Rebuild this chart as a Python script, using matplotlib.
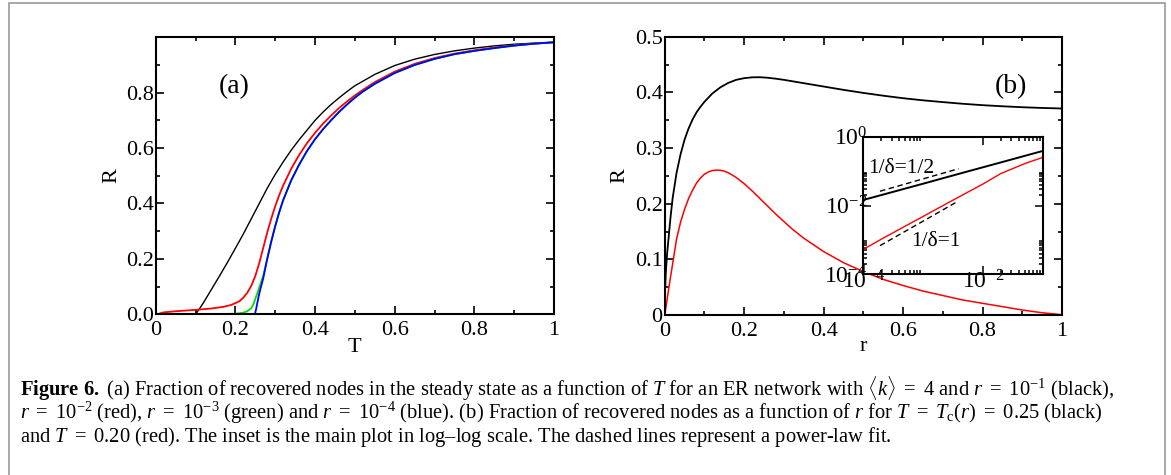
import matplotlib
matplotlib.use("Agg")
import matplotlib.pyplot as plt
from matplotlib.patches import Rectangle
from matplotlib.ticker import MultipleLocator, FixedLocator, NullFormatter

plt.rcParams["font.family"] = ["Liberation Serif", "DejaVu Serif"]
plt.rcParams["mathtext.fontset"] = "custom"
plt.rcParams["mathtext.rm"] = "Liberation Serif"
plt.rcParams["mathtext.it"] = "Liberation Serif:italic"
plt.rcParams["mathtext.bf"] = "Liberation Serif:bold"

# ---- panel (a): R vs T for r = 1e-1, 1e-2, 1e-3, 1e-4
t_black = [0.0, 0.10, 0.11, 0.12, 0.14, 0.16, 0.18, 0.20, 0.22, 0.24, 0.26, 0.28, 0.30,
           0.32, 0.34, 0.36, 0.38, 0.40, 0.42, 0.44, 0.46, 0.48, 0.50, 0.55, 0.60, 0.65,
           0.70, 0.75, 0.80, 0.85, 0.90, 0.95, 1.0]
r_black = [0.0, 0.0, 0.02, 0.042, 0.09, 0.138, 0.187, 0.238, 0.29, 0.345, 0.40, 0.455, 0.505,
           0.55, 0.592, 0.63, 0.665, 0.70, 0.73, 0.757, 0.781, 0.804, 0.825, 0.866, 0.898, 0.921,
           0.938, 0.951, 0.961, 0.969, 0.975, 0.979, 0.982]

t_red = [0.01, 0.02, 0.05, 0.10, 0.14, 0.17, 0.19, 0.21, 0.22, 0.23, 0.24, 0.25, 0.26, 0.27,
         0.28, 0.29, 0.30, 0.31, 0.32, 0.34, 0.36, 0.38, 0.40, 0.42, 0.44, 0.46, 0.48, 0.50,
         0.52, 0.55, 0.60, 0.65, 0.70, 0.75, 0.80, 0.85, 0.90, 0.95, 1.0]
r_red = [0.003, 0.007, 0.011, 0.016, 0.021, 0.027, 0.034, 0.047, 0.06, 0.078, 0.103, 0.138,
         0.185, 0.24, 0.295, 0.345, 0.39, 0.43, 0.465, 0.525, 0.575, 0.618, 0.655, 0.688,
         0.717, 0.744, 0.768, 0.79, 0.81, 0.838, 0.876, 0.904, 0.925, 0.941, 0.953, 0.963,
         0.971, 0.977, 0.982]

t_green = [0.0, 0.15, 0.20, 0.22, 0.23, 0.24, 0.245, 0.25, 0.255, 0.26, 0.27, 0.28, 0.29,
           0.30, 0.31, 0.32, 0.34, 0.36, 0.38, 0.40, 0.42, 0.44, 0.46, 0.48, 0.50, 0.52,
           0.55, 0.60, 0.65, 0.70, 0.75, 0.80, 0.85, 0.90, 0.95, 1.0]
r_green = [0.0, 0.0005, 0.002, 0.006, 0.011, 0.022, 0.035, 0.055, 0.075, 0.097, 0.14, 0.2,
           0.262, 0.318, 0.368, 0.412, 0.483, 0.54, 0.59, 0.632, 0.668, 0.70, 0.73, 0.757,
           0.782, 0.804, 0.832, 0.871, 0.90, 0.922, 0.939, 0.951, 0.961, 0.970, 0.977, 0.982]

t_blue = [0.0, 0.249, 0.252, 0.255, 0.26, 0.27, 0.28, 0.29, 0.30, 0.31, 0.32, 0.34, 0.36,
          0.38, 0.40, 0.42, 0.44, 0.46, 0.48, 0.50, 0.52, 0.55, 0.60, 0.65, 0.70, 0.75,
          0.80, 0.85, 0.90, 0.95, 1.0]
r_blue = [0.0, 0.0, 0.018, 0.04, 0.075, 0.13, 0.2, 0.262, 0.318, 0.368, 0.412, 0.483, 0.54,
          0.59, 0.632, 0.668, 0.70, 0.73, 0.757, 0.782, 0.804, 0.832, 0.871, 0.90, 0.922,
          0.939, 0.951, 0.961, 0.970, 0.977, 0.982]

# ---- panel (b): R vs r for T = 0.25 and T = 0.20
rb_black = [0.0, 0.0005, 0.001, 0.003, 0.006, 0.01, 0.015, 0.02, 0.03, 0.04, 0.05, 0.06,
            0.07, 0.08, 0.09, 0.10, 0.12, 0.14, 0.16, 0.18, 0.20, 0.22, 0.24, 0.26, 0.28,
            0.30, 0.35, 0.40, 0.45, 0.50, 0.55, 0.60, 0.65, 0.70, 0.75, 0.80, 0.85, 0.90,
            0.95, 1.0]
Rb_black = [0.0, 0.03, 0.045, 0.078, 0.11, 0.14, 0.178, 0.21, 0.256, 0.289, 0.315, 0.335,
            0.351, 0.364, 0.374, 0.383, 0.398, 0.409, 0.417, 0.4225, 0.4255, 0.427, 0.4272,
            0.4262, 0.4245, 0.4225, 0.4165, 0.4105, 0.4045, 0.399, 0.394, 0.3895, 0.3857,
            0.3825, 0.3795, 0.377, 0.375, 0.3733, 0.372, 0.371]

rb_red = [0.0, 0.002, 0.005, 0.01, 0.015, 0.02, 0.03, 0.04, 0.05, 0.06, 0.07, 0.08, 0.09,
          0.10, 0.11, 0.12, 0.13, 0.14, 0.15, 0.16, 0.17, 0.18, 0.20, 0.22, 0.24, 0.26,
          0.28, 0.30, 0.32, 0.35, 0.40, 0.45, 0.50, 0.55, 0.60, 0.65, 0.70, 0.75, 0.80,
          0.85, 0.90, 0.95, 1.0]
Rb_red = [0.0, 0.009, 0.023, 0.047, 0.07, 0.092, 0.137, 0.167, 0.19, 0.209, 0.224, 0.237,
          0.246, 0.253, 0.257, 0.2595, 0.2603, 0.26, 0.2585, 0.2555, 0.2515, 0.247, 0.236,
          0.223, 0.209, 0.195, 0.181, 0.168, 0.155, 0.138, 0.114, 0.094, 0.078, 0.064, 0.053,
          0.043, 0.035, 0.027, 0.021, 0.015, 0.009, 0.004, 0.0005]

# ---- inset (log-log)
ri = [1e-4, 2e-4, 5e-4, 1e-3, 2e-3, 5e-3, 1e-2, 2e-2, 5e-2, 1e-1]
Ri_black = [0.0145, 0.0201, 0.031, 0.043, 0.06, 0.093, 0.129, 0.179, 0.277, 0.385]
Ri_red = [5.3e-4, 1.05e-3, 2.5e-3, 4.8e-3, 9.3e-3, 0.022, 0.042, 0.085, 0.165, 0.25]
fit_r = [1.9e-4, 3.9e-3]
fit_black = [0.026, 0.117]
fit_red = [6.8e-4, 0.0135]

W, H = 1171, 475
fig = plt.figure(figsize=(W / 100, H / 100), dpi=100)


def box(l, t, r, b):
    return [l / W, 1 - b / H, (r - l) / W, (b - t) / H]


def style(ax):
    for s in ax.spines.values():
        s.set_linewidth(1.5)
    ax.tick_params(which="both", direction="in", top=True, right=True, width=1.2)
    ax.tick_params(which="major", length=6, labelsize=16)
    ax.tick_params(which="minor", length=3)
    ax.tick_params(axis="y", pad=1.5)
    ax.tick_params(axis="x", pad=5)


# panel (a)
ax1 = fig.add_axes(box(155.7, 37.3, 554, 314.3))
ax1.plot(t_black, r_black, color="black", lw=1.0)
ax1.plot(t_red, r_red, color="red", lw=1.3)
ax1.plot(t_green, r_green, color="#00dd00", lw=1.3)
ax1.plot(t_blue, r_blue, color="blue", lw=1.3)
ax1.set_xlim(0, 1)
ax1.set_ylim(0, 1)
ax1.set_xticks([0, 0.2, 0.4, 0.6, 0.8, 1.0])
ax1.set_xticklabels(["0", "0.2", "0.4", "0.6", "0.8", "1"])
ax1.set_yticks([0, 0.2, 0.4, 0.6, 0.8])
ax1.set_yticklabels(["0.0", "0.2", "0.4", "0.6", "0.8"])
ax1.xaxis.set_minor_locator(MultipleLocator(0.1))
ax1.yaxis.set_minor_locator(MultipleLocator(0.1))
style(ax1)
ax1.set_xlabel("T", fontsize=16)
ax1.set_ylabel("R", fontsize=16)
ax1.xaxis.set_label_coords(0.5, -0.085)
ax1.yaxis.set_label_coords(-0.085, 0.5)
ax1.text(0.197, 0.823, "(a)", fontsize=20, ha="center", va="center")

# panel (b)
ax2 = fig.add_axes(box(664.7, 36.7, 1062, 315))
ax2.plot(rb_black, Rb_black, color="black", lw=1.3)
ax2.plot(rb_red, Rb_red, color="red", lw=1.1)
ax2.set_xlim(0, 1)
ax2.set_ylim(0, 0.5)
ax2.set_xticks([0, 0.2, 0.4, 0.6, 0.8, 1.0])
ax2.set_xticklabels(["0", "0.2", "0.4", "0.6", "0.8", "1"])
ax2.set_yticks([0, 0.1, 0.2, 0.3, 0.4, 0.5])
ax2.set_yticklabels(["0", "0.1", "0.2", "0.3", "0.4", "0.5"])
ax2.xaxis.set_minor_locator(MultipleLocator(0.1))
ax2.yaxis.set_minor_locator(MultipleLocator(0.05))
style(ax2)
ax2.set_xlabel("r", fontsize=16)
ax2.set_ylabel("R", fontsize=16)
ax2.xaxis.set_label_coords(0.5, -0.078)
ax2.yaxis.set_label_coords(-0.09, 0.5)
ax2.text(0.871, 0.41, "(b)", fontsize=20, ha="center", va="center")

# inset
ax3 = fig.add_axes(box(863.3, 136.7, 1042.7, 274.3))
ax3.plot(ri, Ri_black, color="black", lw=1.4)
ax3.plot(ri, Ri_red, color="red", lw=1.0)
ax3.plot(fit_r, fit_black, color="black", lw=1.0, ls=(0, (4, 2.5)))
ax3.plot(fit_r, fit_red, color="black", lw=1.0, ls=(0, (4, 2.5)))
ax3.set_xscale("log")
ax3.set_yscale("log")
ax3.set_xlim(1e-4, 1e-1)
ax3.set_ylim(1e-4, 1)
ax3.set_xticks([1e-4, 1e-2])
ax3.set_xticklabels([r"$10^{-4}$", r"$10^{-2}$"])
ax3.set_yticks([1e-4, 1e-2, 1])
ax3.set_yticklabels([r"$10^{-4}$", r"$10^{-2}$", r"$10^{0}$"])
minors = [k * 1e-4 for k in range(2, 10)] + [k * 1e-2 for k in range(2, 10)]
ax3.xaxis.set_minor_locator(FixedLocator(minors))
ax3.yaxis.set_minor_locator(FixedLocator(minors))
ax3.xaxis.set_minor_formatter(NullFormatter())
ax3.yaxis.set_minor_formatter(NullFormatter())
for s in ax3.spines.values():
    s.set_linewidth(1.5)
ax3.tick_params(which="both", direction="in", top=True, right=True, width=1.1)
ax3.tick_params(which="major", length=6, labelsize=17)
ax3.tick_params(which="minor", length=3)
ax3.tick_params(axis="y", pad=-3)
ax3.tick_params(axis="x", pad=-3)
ax3.text(1.2e-4, 0.123, "1/δ=1/2", fontsize=15.5, ha="left", va="center")
ax3.text(6.3e-4, 8.9e-4, "1/δ=1", fontsize=15.5, ha="left", va="center")

# frame and caption
fig.patches.append(Rectangle((9 / W, -0.05), (1165 - 9) / W, 1.05 - 3.3 / H,
                             transform=fig.transFigure, fill=False,
                             edgecolor="#9a9a9a", lw=1.2))

caption = [
    r"$\mathbf{Figure\ 6.}$ (a) Fraction of recovered nodes in the steady state as a function of $T$ "
    r"for an ER network with $\langle k\rangle\ =\ 4$ and $r\ =\ 10^{-1}$ (black),",
    r"$r\ =\ 10^{-2}$ (red), $r\ =\ 10^{-3}$ (green) and $r\ =\ 10^{-4}$ (blue). (b) Fraction of recovered "
    r"nodes as a function of $r$ for $T\ =\ T_{\rm c}(r)\ =\ 0.25$ (black)",
    r"and $T\ =\ 0.20$ (red). The inset is the main plot in log–log scale. "
    r"The dashed lines represent a power-law fit.",
]
for i, line in enumerate(caption):
    fig.text(20 / W, 1 - (396 + 23 * i) / H, line, fontsize=14.8, ha="left", va="baseline")

fig.savefig("out.png", dpi=100)
